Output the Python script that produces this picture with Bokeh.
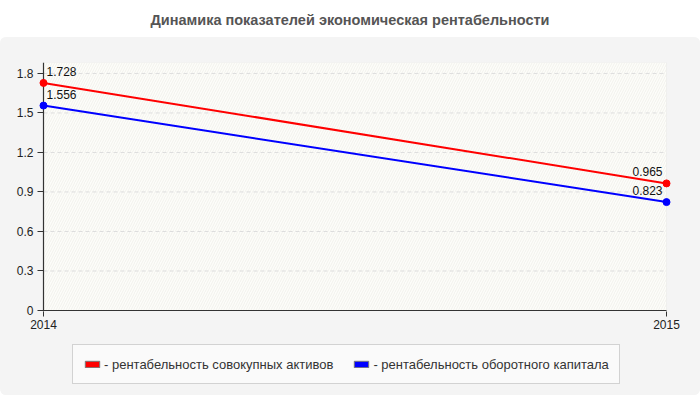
from bokeh.plotting import figure
from bokeh.models import (ColumnDataSource, LabelSet, Legend, LegendItem, FixedTicker,
                          BoxAnnotation, Div, Range1d)
from bokeh.layouts import column
from bokeh.embed import file_html
from bokeh.resources import INLINE
from bokeh.core.properties import value

title_text = "Динамика показателей экономическая рентабельности"
years = [2014, 2015]
assets = [1.728, 0.965]
capital = [1.556, 0.823]
series_names = ["- рентабельность совокупных активов", "- рентабельность оборотного капитала"]
series_colors = ["#ff0000", "#0000ff"]
y_ticks = [0, 0.3, 0.6, 0.9, 1.2, 1.5, 1.8]
y_tick_labels = ["0", "0.3", "0.6", "0.9", "1.2", "1.5", "1.8"]
x_tick_labels = ["2014", "2015"]
y_top = 1.883

FONT = "Liberation Sans"
PANEL = "#f4f4f4"

# layout geometry (pixels)
W, H = 700, 299
BL, BR, BT, BB = 37, 28, 25, 25
frame_w = W - BL - BR
frame_h = H - BT - BB
pad_x = 6.0 / (frame_w - 12)            # 6px padding, expressed in years
pad_y = 1.0 / ((frame_h - 1) / y_top)   # 1px padding below zero

div = Div(text=title_text, width=W, height=27,
          styles={"width": f"{W}px", "text-align": "center", "font-family": FONT,
                  "font-weight": "bold", "font-size": "14.5px", "color": "#555555",
                  "line-height": "30px", "text-indent": "-10px"})

p = figure(width=W, height=H, output_backend="svg", toolbar_location=None,
           x_range=Range1d(years[0] - pad_x, years[-1] + pad_x),
           y_range=Range1d(-pad_y, y_top),
           min_border_left=BL, min_border_right=BR, min_border_top=BT, min_border_bottom=BB)
p.border_fill_color = PANEL
p.background_fill_color = PANEL
p.outline_line_color = None

area = BoxAnnotation(left=years[0], right=years[-1], bottom=0, top=y_top,
                     fill_color="#fdfdfa", fill_alpha=1,
                     line_color="#dddddd", line_width=1,
                     hatch_pattern="/", hatch_color="#f2f2ec",
                     hatch_scale=5, hatch_weight=1, level="underlay")
p.add_layout(area)
p.grid.visible = False

for ax in (p.xaxis[0], p.yaxis[0]):
    ax.axis_line_color = None
    ax.major_tick_line_color = "#333333"
    ax.minor_tick_line_color = None
    ax.major_label_text_font = FONT
    ax.major_label_text_font_size = "12px"
    ax.major_label_text_color = "#222222"

p.yaxis.ticker = FixedTicker(ticks=y_ticks)
p.yaxis.major_label_overrides = dict(zip(y_ticks, y_tick_labels))
p.yaxis.major_tick_in = 6
p.yaxis.major_tick_out = 0
p.yaxis.major_label_standoff = 4
p.xaxis.ticker = FixedTicker(ticks=years)
p.xaxis.major_label_overrides = dict(zip(years, x_tick_labels))
p.xaxis.major_tick_in = 0
p.xaxis.major_tick_out = 5
p.xaxis.major_label_standoff = 3

# dashed horizontal grid lines
p.segment(x0=[years[0]] * (len(y_ticks) - 1), x1=[years[-1]] * (len(y_ticks) - 1),
          y0=y_ticks[1:], y1=y_ticks[1:], line_color="#dddddd", line_dash="4 3", line_width=1)
# axis lines
p.segment(x0=[years[0]], x1=[years[0]], y0=[-pad_y], y1=[y_top], line_color="#333333", line_width=1.2)
p.segment(x0=[years[0]], x1=[years[-1]], y0=[0], y1=[0], line_color="#333333", line_width=1.2)

src = ColumnDataSource(data=dict(x=years, a=assets, c=capital))
p.line("x", "a", source=src, line_color=series_colors[0], line_width=2)
p.line("x", "c", source=src, line_color=series_colors[1], line_width=2)
p.scatter("x", "a", source=src, size=7, fill_color=series_colors[0], line_color=series_colors[0])
p.scatter("x", "c", source=src, size=7, fill_color=series_colors[1], line_color=series_colors[1])

left = ColumnDataSource(data=dict(x=years[:1], a=assets[:1], c=capital[:1],
                                  at=[str(v) for v in assets[:1]], ct=[str(v) for v in capital[:1]]))
right = ColumnDataSource(data=dict(x=years[1:], a=assets[1:], c=capital[1:],
                                   at=[str(v) for v in assets[1:]], ct=[str(v) for v in capital[1:]]))
for s, align, xo in ((left, "left", 3), (right, "right", -4)):
    for col, txt in (("a", "at"), ("c", "ct")):
        p.add_layout(LabelSet(x="x", y=col, text=txt, source=s, text_align=align,
                              text_baseline="bottom", x_offset=xo, y_offset=7,
                              text_font=value(FONT), text_font_size="12px", text_color="#111111"))

# legend strip (a second figure continuing the grey panel)
LH = 59
lf = figure(width=W, height=LH, output_backend="svg", toolbar_location=None,
            x_axis_type=None, y_axis_type=None, x_range=Range1d(0, 1), y_range=Range1d(0, 1),
            min_border=0)
lf.border_fill_color = PANEL
lf.background_fill_color = PANEL
lf.outline_line_color = None
lf.grid.visible = False

# legend swatches: the series values lie far outside this strip's 0..1 range, so only
# the legend entries show them
swatches = []
for i, vals in enumerate((assets, capital)):
    swatches.append(lf.rect(x=years[:1], y=vals[:1], width=1, height=1, border_radius=3,
                            fill_color=series_colors[i], line_color="#777777"))
legend = Legend(items=[LegendItem(label=series_names[i], renderers=[swatches[i]])
                       for i in range(2)],
                orientation="horizontal", location=(35, 11),
                glyph_width=18, glyph_height=8, label_height=18, label_standoff=3, spacing=19,
                padding=10, margin=0,
                label_text_font=FONT, label_text_font_size="13px", label_text_color="#333333",
                border_line_color="#aaaaaa", background_fill_color="#fafafa",
                background_fill_alpha=1)
lf.add_layout(legend)

panel = column(p, lf, spacing=0,
               styles={"background-color": PANEL, "border-radius": "6px", "overflow": "hidden"})
layout = column(div, panel, spacing=0)
open("out.html", "w").write(file_html(layout, INLINE))
